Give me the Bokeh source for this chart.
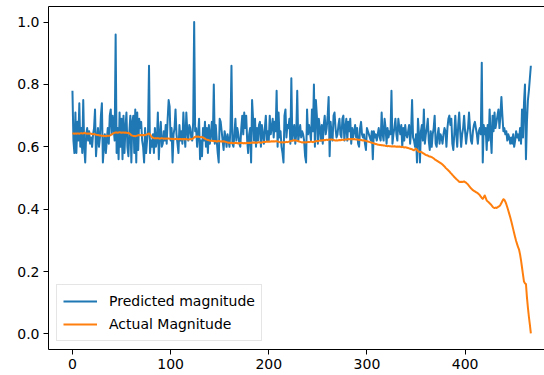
from bokeh.plotting import figure
from bokeh.models import LinearAxis, FixedTicker, PrintfTickFormatter, Range1d
from bokeh.embed import file_html
from bokeh.resources import INLINE

# ---- data ----
predicted = [
    0.78, 0.62, 0.58, 0.71, 0.58, 0.68, 0.62, 0.74, 0.60, 0.66, 0.58, 0.75, 0.60, 0.55, 0.64, 0.66, 0.62, 0.65, 0.61, 0.63,
    0.60, 0.64, 0.66, 0.72, 0.57, 0.62, 0.66, 0.60, 0.63, 0.70, 0.74, 0.55, 0.60, 0.64, 0.58, 0.62, 0.66, 0.61, 0.70, 0.72,
    0.64, 0.70, 0.66, 0.62, 0.96, 0.58, 0.66, 0.56, 0.71, 0.60, 0.69, 0.56, 0.70, 0.58, 0.66, 0.71, 0.60, 0.57, 0.65, 0.70,
    0.55, 0.68, 0.70, 0.58, 0.72, 0.55, 0.71, 0.59, 0.69, 0.66, 0.68, 0.62, 0.60, 0.55, 0.66, 0.58, 0.62, 0.65, 0.86, 0.58,
    0.62, 0.60, 0.64, 0.58, 0.66, 0.60, 0.62, 0.71, 0.56, 0.64, 0.68, 0.60, 0.61, 0.65, 0.62, 0.67, 0.61, 0.69, 0.75, 0.73,
    0.62, 0.66, 0.55, 0.64, 0.66, 0.72, 0.64, 0.61, 0.58, 0.67, 0.62, 0.65, 0.61, 0.71, 0.64, 0.60, 0.71, 0.65, 0.62, 0.67,
    0.66, 0.63, 0.62, 0.68, 1.00, 0.65, 0.66, 0.60, 0.64, 0.69, 0.56, 0.62, 0.57, 0.66, 0.62, 0.68, 0.60, 0.66, 0.58, 0.67,
    0.61, 0.64, 0.68, 0.62, 0.80, 0.61, 0.67, 0.62, 0.58, 0.55, 0.69, 0.68, 0.65, 0.62, 0.59, 0.65, 0.63, 0.60, 0.64, 0.62,
    0.60, 0.66, 0.86, 0.61, 0.60, 0.64, 0.69, 0.62, 0.66, 0.64, 0.61, 0.60, 0.66, 0.70, 0.64, 0.71, 0.66, 0.70, 0.62, 0.58,
    0.64, 0.66, 0.55, 0.75, 0.69, 0.62, 0.69, 0.60, 0.66, 0.62, 0.67, 0.68, 0.60, 0.67, 0.64, 0.61, 0.66, 0.70, 0.62, 0.65,
    0.62, 0.70, 0.64, 0.66, 0.69, 0.63, 0.68, 0.65, 0.78, 0.60, 0.71, 0.63, 0.65, 0.60, 0.58, 0.55, 0.70, 0.72, 0.63, 0.67,
    0.66, 0.69, 0.61, 0.82, 0.62, 0.65, 0.67, 0.61, 0.64, 0.78, 0.62, 0.64, 0.67, 0.63, 0.65, 0.64, 0.62, 0.57, 0.55, 0.72,
    0.64, 0.67, 0.65, 0.62, 0.72, 0.65, 0.80, 0.60, 0.75, 0.70, 0.61, 0.69, 0.66, 0.62, 0.67, 0.61, 0.67, 0.70, 0.64, 0.66,
    0.70, 0.76, 0.57, 0.68, 0.64, 0.62, 0.70, 0.71, 0.66, 0.63, 0.64, 0.67, 0.69, 0.64, 0.63, 0.69, 0.70, 0.62, 0.66, 0.69,
    0.62, 0.68, 0.65, 0.69, 0.61, 0.66, 0.63, 0.65, 0.67, 0.63, 0.66, 0.61, 0.60, 0.66, 0.68, 0.64, 0.63, 0.64, 0.61, 0.59,
    0.66, 0.65, 0.64, 0.63, 0.62, 0.65, 0.56, 0.65, 0.63, 0.64, 0.62, 0.64, 0.66, 0.63, 0.62, 0.71, 0.64, 0.62, 0.69, 0.66,
    0.61, 0.66, 0.63, 0.65, 0.64, 0.78, 0.61, 0.64, 0.66, 0.69, 0.64, 0.62, 0.69, 0.66, 0.64, 0.67, 0.60, 0.66, 0.62, 0.67,
    0.64, 0.63, 0.65, 0.67, 0.61, 0.65, 0.75, 0.63, 0.62, 0.60, 0.64, 0.55, 0.69, 0.64, 0.55, 0.65, 0.67, 0.62, 0.72, 0.61,
    0.64, 0.66, 0.69, 0.62, 0.59, 0.65, 0.60, 0.64, 0.66, 0.70, 0.61, 0.60, 0.64, 0.66, 0.61, 0.64, 0.63, 0.61, 0.64, 0.66,
    0.65, 0.60, 0.66, 0.69, 0.70, 0.67, 0.69, 0.61, 0.59, 0.64, 0.70, 0.64, 0.60, 0.67, 0.71, 0.65, 0.60, 0.64, 0.66, 0.70,
    0.65, 0.61, 0.64, 0.66, 0.71, 0.66, 0.62, 0.61, 0.65, 0.67, 0.68, 0.66, 0.64, 0.61, 0.65, 0.66, 0.64, 0.87, 0.55, 0.67,
    0.64, 0.66, 0.59, 0.67, 0.62, 0.72, 0.64, 0.58, 0.70, 0.65, 0.71, 0.66, 0.68, 0.70, 0.72, 0.66, 0.70, 0.76, 0.70, 0.65,
    0.66, 0.64, 0.65, 0.62, 0.64, 0.63, 0.61, 0.63, 0.61, 0.64, 0.60, 0.62, 0.65, 0.63, 0.64, 0.62, 0.66, 0.61, 0.72, 0.63,
    0.74, 0.80, 0.56, 0.68, 0.75, 0.78, 0.82, 0.86,
]

actual = [
    0.642, 0.643, 0.642, 0.643, 0.642, 0.643, 0.643, 0.642, 0.643, 0.644, 0.643, 0.643, 0.645, 0.644, 0.643, 0.642, 0.643, 0.642, 0.643, 0.642,
    0.641, 0.640, 0.641, 0.640, 0.639, 0.638, 0.638, 0.637, 0.636, 0.636, 0.635, 0.636, 0.635, 0.635, 0.634, 0.635, 0.636, 0.635, 0.636, 0.638,
    0.640, 0.642, 0.644, 0.645, 0.646, 0.646, 0.645, 0.646, 0.647, 0.646, 0.645, 0.646, 0.646, 0.645, 0.646, 0.645, 0.644, 0.645, 0.643, 0.640,
    0.637, 0.636, 0.635, 0.635, 0.634, 0.635, 0.636, 0.637, 0.638, 0.637, 0.638, 0.637, 0.638, 0.637, 0.638, 0.639, 0.640, 0.641, 0.643, 0.640,
    0.635, 0.631, 0.629, 0.628, 0.627, 0.628, 0.627, 0.628, 0.627, 0.626, 0.627, 0.628, 0.627, 0.626, 0.627, 0.626, 0.627, 0.626, 0.627, 0.626,
    0.626, 0.625, 0.626, 0.625, 0.624, 0.625, 0.626, 0.625, 0.624, 0.625, 0.625, 0.624, 0.625, 0.624, 0.625, 0.624, 0.625, 0.624, 0.623, 0.624,
    0.625, 0.624, 0.625, 0.627, 0.630, 0.632, 0.633, 0.632, 0.633, 0.632, 0.631, 0.632, 0.631, 0.630, 0.628, 0.626, 0.624, 0.623, 0.622, 0.621,
    0.620, 0.619, 0.620, 0.619, 0.618, 0.619, 0.618, 0.617, 0.618, 0.619, 0.618, 0.617, 0.618, 0.617, 0.618, 0.617, 0.616, 0.615, 0.614, 0.613,
    0.613, 0.612, 0.613, 0.612, 0.611, 0.612, 0.613, 0.612, 0.611, 0.612, 0.611, 0.612, 0.613, 0.612, 0.611, 0.612, 0.611, 0.612, 0.613, 0.612,
    0.613, 0.612, 0.613, 0.614, 0.613, 0.614, 0.613, 0.614, 0.613, 0.614, 0.615, 0.614, 0.613, 0.614, 0.615, 0.616, 0.615, 0.616, 0.617, 0.616,
    0.617, 0.616, 0.617, 0.618, 0.617, 0.618, 0.617, 0.618, 0.618, 0.617, 0.616, 0.615, 0.614, 0.615, 0.614, 0.615, 0.614, 0.615, 0.616, 0.615,
    0.616, 0.617, 0.618, 0.619, 0.620, 0.621, 0.620, 0.621, 0.620, 0.619, 0.618, 0.617, 0.616, 0.615, 0.614, 0.615, 0.614, 0.615, 0.614, 0.615,
    0.616, 0.615, 0.616, 0.617, 0.616, 0.615, 0.616, 0.617, 0.618, 0.619, 0.618, 0.619, 0.620, 0.621, 0.620, 0.621, 0.622, 0.621, 0.622, 0.623,
    0.622, 0.623, 0.624, 0.623, 0.624, 0.623, 0.622, 0.621, 0.620, 0.621, 0.620, 0.621, 0.622, 0.621, 0.622, 0.623, 0.622, 0.623, 0.624, 0.623,
    0.624, 0.625, 0.624, 0.625, 0.624, 0.625, 0.624, 0.625, 0.624, 0.623, 0.624, 0.623, 0.622, 0.623, 0.622, 0.621, 0.620, 0.621, 0.620, 0.619,
    0.618, 0.617, 0.616, 0.615, 0.614, 0.613, 0.612, 0.611, 0.610, 0.609, 0.608, 0.607, 0.607, 0.606, 0.606, 0.605, 0.605, 0.604, 0.604, 0.603,
    0.603, 0.602, 0.603, 0.602, 0.602, 0.601, 0.602, 0.601, 0.602, 0.601, 0.600, 0.601, 0.600, 0.601, 0.600, 0.599, 0.600, 0.599, 0.598, 0.599,
    0.598, 0.597, 0.596, 0.595, 0.594, 0.593, 0.592, 0.590, 0.589, 0.592, 0.594, 0.590, 0.586, 0.584, 0.583, 0.584, 0.582, 0.580, 0.578, 0.576,
    0.574, 0.573, 0.572, 0.570, 0.569, 0.568, 0.567, 0.565, 0.563, 0.560, 0.558, 0.556, 0.554, 0.552, 0.550, 0.548, 0.546, 0.543, 0.540, 0.537,
    0.533, 0.530, 0.527, 0.524, 0.521, 0.517, 0.514, 0.510, 0.507, 0.503, 0.500, 0.497, 0.494, 0.491, 0.488, 0.487, 0.488, 0.487, 0.488, 0.489,
    0.487, 0.485, 0.482, 0.479, 0.475, 0.471, 0.467, 0.464, 0.461, 0.459, 0.457, 0.455, 0.453, 0.451, 0.448, 0.445, 0.440, 0.436, 0.433, 0.438,
    0.444, 0.436, 0.428, 0.425, 0.422, 0.419, 0.416, 0.412, 0.408, 0.405, 0.404, 0.405, 0.404, 0.406, 0.408, 0.410, 0.414, 0.420, 0.426, 0.432,
    0.430, 0.424, 0.416, 0.406, 0.396, 0.385, 0.374, 0.362, 0.349, 0.336, 0.323, 0.310, 0.298, 0.288, 0.278, 0.270, 0.255, 0.236, 0.213, 0.190,
    0.168, 0.162, 0.160, 0.118, 0.084, 0.055, 0.030, 0.002,
]

x_ticks = [0, 100, 200, 300, 400]
y_ticks = [0.0, 0.2, 0.4, 0.6, 0.8, 1.0]
series_labels = ["Predicted magnitude", "Actual Magnitude"]
series_colors = ["#1f77b4", "#ff7f0e"]

FONT = "DejaVu Sans"

p = figure(width=544, height=375, output_backend="svg", toolbar_location=None,
           x_range=Range1d(-24.4, 480.9), y_range=Range1d(-0.05, 1.05),
           min_border_left=48, min_border_right=0, min_border_top=6, min_border_bottom=26)
p.outline_line_color = None
p.background_fill_color = "white"
p.border_fill_color = "white"
p.xgrid.visible = False
p.ygrid.visible = False

p.line(list(range(len(predicted))), predicted, line_color=series_colors[0], line_width=2,
       line_join="round", legend_label=series_labels[0])
p.line(list(range(len(actual))), actual, line_color=series_colors[1], line_width=2,
       line_join="round", legend_label=series_labels[1])

p.xaxis.ticker = FixedTicker(ticks=x_ticks)
p.yaxis.ticker = FixedTicker(ticks=y_ticks)
p.yaxis.formatter = PrintfTickFormatter(format="%.1f")
for ax in (p.xaxis[0], p.yaxis[0]):
    ax.axis_line_color = "black"
    ax.axis_line_width = 1
    ax.major_tick_line_color = "black"
    ax.major_tick_line_width = 1
    ax.major_tick_out = 5
    ax.major_tick_in = 0
    ax.minor_tick_line_color = None
    ax.major_label_text_font = FONT
    ax.major_label_text_font_size = "14px"
    ax.major_label_text_color = "black"
    ax.major_label_standoff = 4

top = LinearAxis(ticker=FixedTicker(ticks=[]), axis_line_color="black", axis_line_width=1,
                 major_tick_out=0, major_tick_in=0, major_label_standoff=0,
                 minor_tick_line_color=None, major_tick_line_color=None)
p.add_layout(top, "above")

lg = p.legend[0]
lg.location = "bottom_left"
lg.margin = 8
lg.padding = 6
lg.spacing = 3
lg.glyph_width = 34
lg.glyph_height = 20
lg.label_height = 20
lg.label_standoff = 12
lg.label_text_font = FONT
lg.label_text_font_size = "14px"
lg.label_text_color = "black"
lg.border_line_color = "#cccccc"
lg.border_line_width = 1
lg.background_fill_color = "white"
lg.background_fill_alpha = 0.8

open("out.html", "w").write(file_html(p, INLINE))
